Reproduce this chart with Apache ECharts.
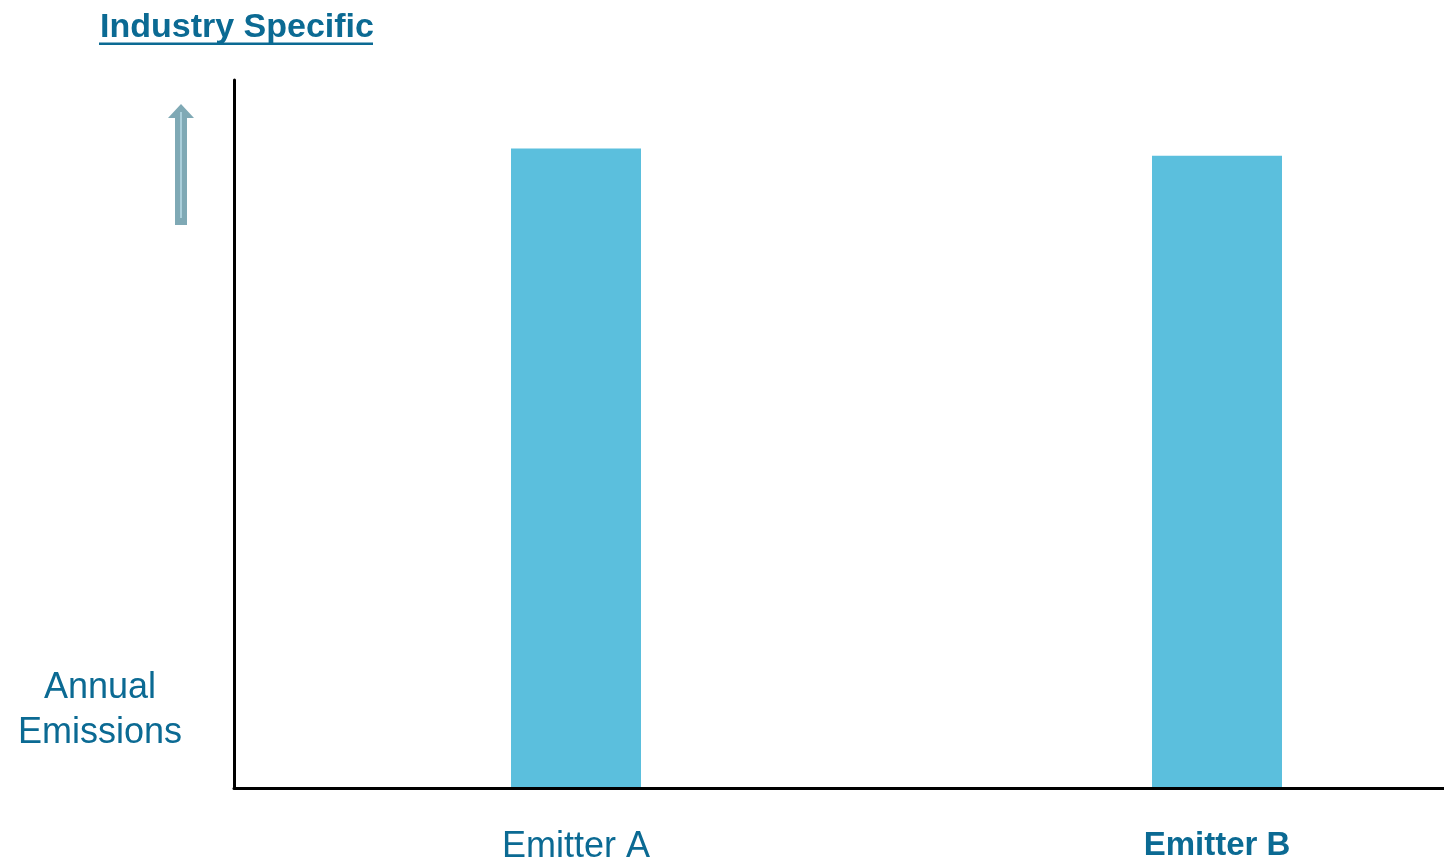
<!DOCTYPE html>
<html><head><meta charset="utf-8">
<script src="https://cdn.jsdelivr.net/npm/echarts@6/dist/echarts.min.js"></script>
<style>html,body{margin:0;padding:0;background:#fff}#c{width:1444px;height:865px}</style>
</head><body><div id="c"></div>
<script>
const categories = ['Emitter A', 'Emitter B'];
const emissions = [90.3, 89.3];
const yMax = 100;
const titleText = 'Industry Specific';
const yLabel = 'Annual\nEmissions';

const textColor = '#0B6A93';
const barColor = '#5BBFDD';
const chart = echarts.init(document.getElementById('c'));
chart.setOption({
  animation: false,
  backgroundColor: '#fff',
  grid: [
    {left: 234, right: 0, top: 80, bottom: 77},
    {left: 576, right: 227, top: 80, bottom: 77}
  ],
  xAxis: [
    {type: 'category', gridIndex: 0, data: categories,
     axisLine: {show: true, lineStyle: {color: '#000', width: 3}},
     axisTick: {show: false}, axisLabel: {show: false}, splitLine: {show: false}},
    {type: 'category', gridIndex: 1, data: categories, boundaryGap: false,
     axisLine: {show: false}, axisTick: {show: false},
     axisLabel: {
       margin: 42,
       formatter: (v, i) => i === 0 ? '{a|' + v + '}' : '{b|' + v + '}',
       rich: {
         a: {fontFamily: 'Liberation Sans, Arial', fontSize: 36, color: textColor},
         b: {fontFamily: 'Liberation Sans, Arial', fontSize: 33, fontWeight: 'bold', color: textColor}
       }
     }}
  ],
  yAxis: [
    {type: 'value', gridIndex: 0, min: 0, max: yMax,
     axisLine: {show: true, lineStyle: {color: '#000', width: 3}},
     axisTick: {show: false}, axisLabel: {show: false}, splitLine: {show: false}},
    {type: 'value', gridIndex: 1, min: 0, max: yMax, show: false}
  ],
  series: [{
    type: 'bar', xAxisIndex: 1, yAxisIndex: 1,
    data: emissions, barWidth: 130,
    itemStyle: {color: barColor}
  }],
  graphic: [
    {type: 'text', left: 100, top: 11,
     style: {text: titleText, font: 'bold 34px "Liberation Sans", Arial', fill: textColor}},
    {type: 'rect', shape: {x: 99, y: 42.5, width: 274, height: 2.5}, style: {fill: textColor}},
    {type: 'text', x: 100, y: 711,
     style: {text: yLabel, font: '36px "Liberation Sans", Arial', fill: textColor,
             align: 'center', verticalAlign: 'middle', lineHeight: 45}},
    {type: 'polygon',
     shape: {points: [[175, 225], [175, 118], [168, 118], [181, 104], [194, 118], [187, 118], [187, 225]]},
     style: {fill: '#7FA9B5'}},
    {type: 'line', shape: {x1: 181, y1: 112, x2: 181, y2: 218}, style: {stroke: '#B8DCE8', lineWidth: 1.5}}
  ]
});
</script></body></html>
